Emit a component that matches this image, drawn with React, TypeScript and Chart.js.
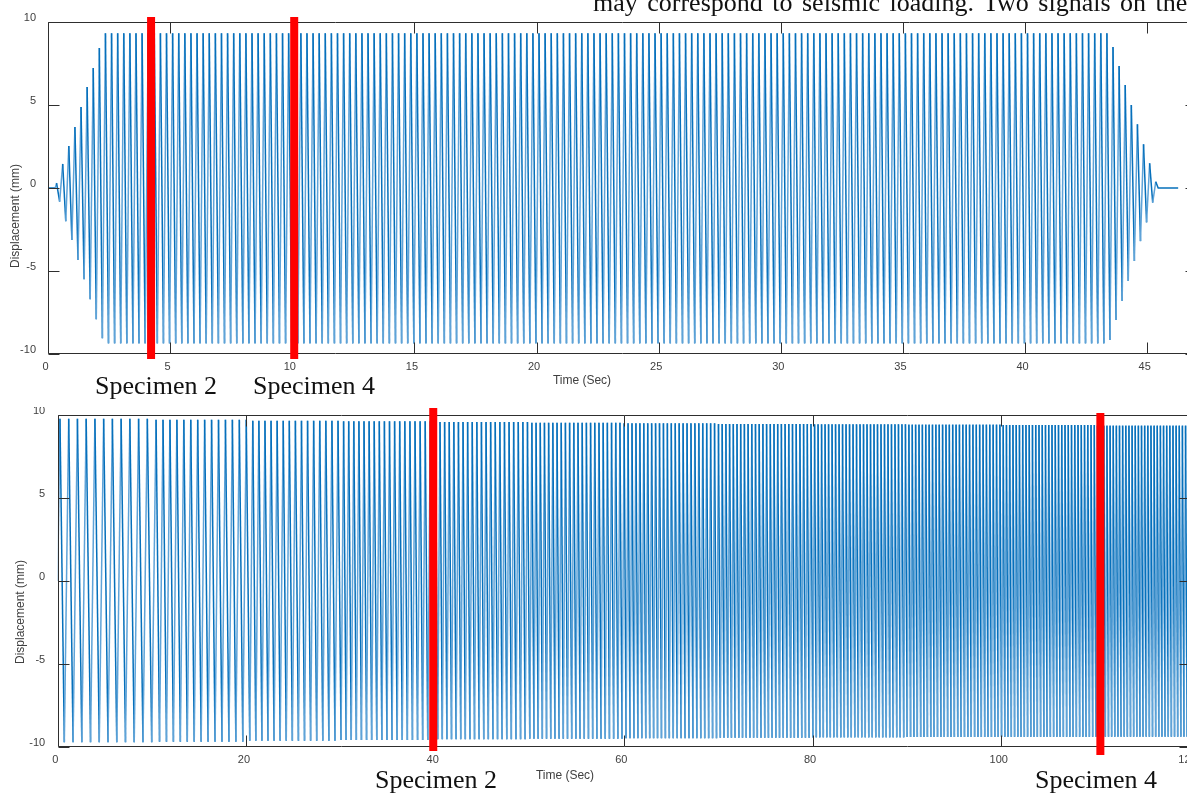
import React, { useEffect, useRef } from 'react';
import { Chart, registerables } from 'chart.js';

Chart.register(...registerables);

// ---------------- shared axis data ----------------
const yTickValues = [-10, -5, 0, 5, 10];
const xTitle = 'Time (Sec)';
const yTitle = 'Displacement (mm)';

// ---------------- top chart data (0–47 s, 4 Hz cycles) ----------------
const topXTicks = [0, 5, 10, 15, 20, 25, 30, 35, 40, 45];
const topXMax = 47;
const topPeriodSec = 0.25;
const topFirstPeakSec = 0.352;
const topLeadInEndSec = 0.3;
const topReturnSec = 0.1;
const topTailEndSec = 46.27;
const topRampUpPeaks = [0.3, 1.45, 2.53, 3.67, 4.88, 6.08, 7.23, 8.43];
const topRampUpTroughs = [-0.82, -2.0, -3.13, -4.34, -5.5, -6.7, -7.9, -9.05];
const topPlateauPeak = 9.32;
const topPlateauPeakCount = 165;
const topPlateauTrough = -9.36;
const topPlateauTroughCount = 164;
const topRampDownPeaks = [8.5, 7.35, 6.2, 5.0, 3.84, 2.63, 1.49, 0.38];
const topRampDownTroughs = [-9.16, -7.95, -6.8, -5.6, -4.4, -3.2, -2.07, -0.88];
const topMarkersSec = [4.22, 10.08];

// ---------------- bottom chart data (0–120 s, rising frequency) ----------------
const bottomXTicks = [0, 20, 40, 60, 80, 100, 120];
const bottomXMax = 120;
const bottomSegmentSec = 10;
const bottomCyclesPerSegment = [10.8, 13.6, 15.5, 18.5, 20.5, 22.5, 24, 25.5, 27, 28, 29, 30];
const bottomPeakLevels = [9.78, 9.72, 9.66, 9.62, 9.58, 9.54, 9.5, 9.46, 9.44, 9.42, 9.4, 9.36];
const bottomTroughLevels = [-9.72, -9.68, -9.62, -9.58, -9.54, -9.5, -9.48, -9.45, -9.42, -9.4, -9.39, -9.38];
const bottomFirstPeakSec = 0.24;
const bottomMarkersSec = [39.8, 110.5];

// ---------------- styles ----------------
const LINE_DARK = '#0670bb';
const LINE_LIGHT = '#5fa3d8';
const AXIS_COLOR = '#2e2e2e';
const LABEL_COLOR = '#404040';
const SANS = "'Liberation Sans', Arial, Helvetica, sans-serif";
const SERIF = "'Liberation Serif', 'Times New Roman', serif";
const TICK_LEN = 11;
const MARKER_W = 8;

type Pt = { x: number; y: number };

function buildTopSeries(): Pt[] {
  const peaks = [...topRampUpPeaks, ...Array(topPlateauPeakCount).fill(topPlateauPeak), ...topRampDownPeaks];
  const troughs = [...topRampUpTroughs, ...Array(topPlateauTroughCount).fill(topPlateauTrough), ...topRampDownTroughs];
  const pts: Pt[] = [{ x: 0, y: 0 }, { x: topLeadInEndSec, y: 0 }];
  peaks.forEach((p, i) => {
    const t = topFirstPeakSec + i * topPeriodSec;
    pts.push({ x: t, y: p });
    if (i < troughs.length) pts.push({ x: t + topPeriodSec / 2, y: troughs[i] });
  });
  const last = topFirstPeakSec + (peaks.length - 1) * topPeriodSec;
  pts.push({ x: last + topReturnSec, y: 0 }, { x: topTailEndSec, y: 0 });
  return pts;
}

function buildBottomSeries(): Pt[] {
  const pts: Pt[] = [{ x: 0, y: 0 }];
  let t = bottomFirstPeakSec;
  let up = true;
  const n = bottomCyclesPerSegment.length;
  while (t <= bottomXMax + 0.5) {
    const seg = Math.min(Math.floor(t / bottomSegmentSec), n - 1);
    pts.push({ x: t, y: up ? bottomPeakLevels[seg] : bottomTroughLevels[seg] });
    t += (0.5 * bottomSegmentSec) / bottomCyclesPerSegment[seg];
    up = !up;
  }
  return pts;
}

type Decor = {
  yTitleX: number;
  yTitleY: number;
  xTitleX: number;
  xTitleY: number;
  markers: number[];
  markerExt: { top: number; bottom: number }[];
};

const decorPlugin = {
  id: 'decor',
  afterDraw(chart: any, _args: any, opts: Decor) {
    const { ctx, chartArea: a, scales } = chart;
    const xs = scales.x;
    const ys = scales.y;
    ctx.save();
    // frame
    ctx.strokeStyle = AXIS_COLOR;
    ctx.lineWidth = 1;
    const L = Math.round(a.left) + 0.5;
    const R = Math.round(a.right) + 0.5;
    const T = Math.round(a.top) + 0.5;
    const B = Math.round(a.bottom) - 0.5;
    ctx.beginPath();
    ctx.moveTo(L, T);
    ctx.lineTo(R, T);
    ctx.lineTo(R, B);
    ctx.lineTo(L, B);
    ctx.closePath();
    // inward ticks
    xs.ticks.forEach((tk: any) => {
      const px = Math.round(xs.getPixelForValue(tk.value)) + 0.5;
      ctx.moveTo(px, B);
      ctx.lineTo(px, B - TICK_LEN);
      ctx.moveTo(px, T);
      ctx.lineTo(px, T + TICK_LEN);
    });
    ys.ticks.forEach((tk: any) => {
      const py = Math.round(ys.getPixelForValue(tk.value)) + 0.5;
      ctx.moveTo(L, py);
      ctx.lineTo(L + TICK_LEN, py);
      ctx.moveTo(R, py);
      ctx.lineTo(R - TICK_LEN, py);
    });
    ctx.stroke();
    // titles
    ctx.fillStyle = LABEL_COLOR;
    ctx.font = `12px ${SANS}`;
    ctx.textAlign = 'center';
    ctx.textBaseline = 'middle';
    ctx.fillText(xTitle, opts.xTitleX, opts.xTitleY);
    ctx.save();
    ctx.translate(opts.yTitleX, opts.yTitleY);
    ctx.rotate(-Math.PI / 2);
    ctx.fillText(yTitle, 0, 0);
    ctx.restore();
    // red markers
    ctx.fillStyle = '#ff0000';
    opts.markers.forEach((m, i) => {
      const px = xs.getPixelForValue(m);
      const ext = opts.markerExt[i];
      ctx.fillRect(px - MARKER_W / 2, a.top - ext.top, MARKER_W, a.bottom - a.top + ext.top + ext.bottom);
    });
    ctx.restore();
  },
};

function makeConfig(
  points: Pt[],
  xMax: number,
  xTicks: number[],
  pad: { top: number; right: number },
  yWidth: number,
  xHeight: number,
  yPad: number,
  decor: Decor
): any {
  return {
    type: 'line',
    data: {
      datasets: [
        {
          data: points,
          borderColor: LINE_DARK,
          borderWidth: 1.5,
          pointRadius: 0,
          tension: 0,
          fill: false,
          segment: {
            borderColor: (c: any) => (c.p1.parsed.y > c.p0.parsed.y ? LINE_LIGHT : LINE_DARK),
          },
        },
      ],
    },
    options: {
      animation: false,
      responsive: false,
      devicePixelRatio: 1,
      parsing: false,
      normalized: true,
      events: [],
      layout: { padding: { top: pad.top, right: pad.right, left: 0, bottom: 0 } },
      plugins: {
        legend: { display: false },
        tooltip: { enabled: false },
        decor,
      },
      scales: {
        x: {
          type: 'linear',
          min: 0,
          max: xMax,
          grid: { display: false, drawTicks: false },
          border: { display: false },
          ticks: {
            autoSkip: false,
            maxRotation: 0,
            padding: 6.4,
            labelOffset: -2.5,
            color: LABEL_COLOR,
            font: { family: SANS, size: 11 },
          },
          afterBuildTicks: (axis: any) => {
            axis.ticks = xTicks.map((v) => ({ value: v }));
          },
          afterFit: (s: any) => {
            s.height = xHeight;
          },
        },
        y: {
          type: 'linear',
          min: -10,
          max: 10,
          grid: { display: false, drawTicks: false },
          border: { display: false },
          ticks: {
            autoSkip: false,
            padding: yPad,
            labelOffset: -4.5,
            color: LABEL_COLOR,
            font: { family: SANS, size: 11 },
          },
          afterBuildTicks: (axis: any) => {
            axis.ticks = yTickValues.map((v) => ({ value: v }));
          },
          afterFit: (s: any) => {
            s.width = yWidth;
          },
        },
      },
    },
    plugins: [decorPlugin],
  };
}

const textStyle = (left: number, top: number, extra?: React.CSSProperties): React.CSSProperties => ({
  position: 'absolute',
  left,
  top,
  fontFamily: SERIF,
  fontSize: 26,
  lineHeight: '26px',
  color: '#111',
  whiteSpace: 'nowrap',
  ...extra,
});

export default function App() {
  const topRef = useRef<HTMLCanvasElement>(null);
  const botRef = useRef<HTMLCanvasElement>(null);

  useEffect(() => {
    const top = new Chart(
      topRef.current as HTMLCanvasElement,
      makeConfig(buildTopSeries(), topXMax, topXTicks, { top: 22, right: 14 }, 48, 41, 12, {
        yTitleX: 15.5,
        yTitleY: 216,
        xTitleX: 582,
        xTitleY: 381,
        markers: topMarkersSec,
        markerExt: [
          { top: 5, bottom: 5 },
          { top: 5, bottom: 5 },
        ],
      })
    );
    const bot = new Chart(
      botRef.current as HTMLCanvasElement,
      makeConfig(buildBottomSeries(), bottomXMax, bottomXTicks, { top: 20, right: 20 }, 57.7, 49, 12.5, {
        yTitleX: 21,
        yTitleY: 217,
        xTitleX: 565,
        xTitleY: 381,
        markers: bottomMarkersSec,
        markerExt: [
          { top: 7, bottom: 4 },
          { top: 2, bottom: 8 },
        ],
      })
    );
    return () => {
      top.destroy();
      bot.destroy();
    };
  }, []);

  return (
    <div
      style={{
        position: 'absolute',
        left: 0,
        top: 0,
        width: 1187,
        height: 796,
        overflow: 'hidden',
        background: '#fff',
      }}
    >
      <canvas
        ref={topRef}
        width={1210}
        height={395}
        style={{ position: 'absolute', left: 0, top: 0, width: 1210, height: 395 }}
      />
      <div style={{ position: 'absolute', left: 0, top: 407, width: 1210, height: 389, overflow: 'hidden' }}>
        <canvas
          ref={botRef}
          width={1210}
          height={401}
          style={{ position: 'absolute', left: 0, top: -12, width: 1210, height: 401 }}
        />
      </div>
      <div style={textStyle(593, -9.8, { wordSpacing: '3px' })}>may correspond to seismic loading. Two signals on the</div>
      <div style={textStyle(95, 373)}>Specimen 2</div>
      <div style={textStyle(253, 373)}>Specimen 4</div>
      <div style={textStyle(375, 767)}>Specimen 2</div>
      <div style={textStyle(1035, 767)}>Specimen 4</div>
    </div>
  );
}
